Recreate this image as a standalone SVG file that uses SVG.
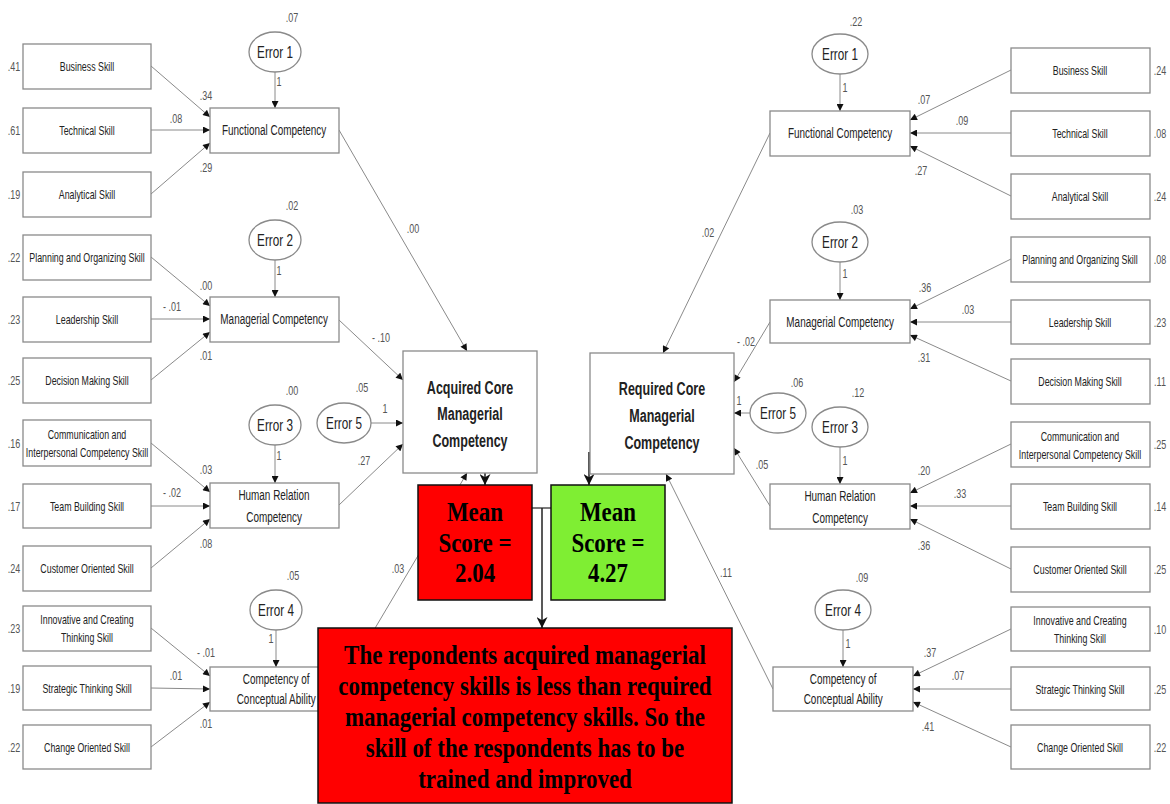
<svg xmlns="http://www.w3.org/2000/svg" width="1170" height="804" viewBox="0 0 1170 804">
<style>
.box{fill:#fff;stroke:#8a8a8a;stroke-width:1.3}
.ell{fill:#fff;stroke:#8a8a8a;stroke-width:1.3}
.t{font-family:"Liberation Sans",Arial,sans-serif;fill:#222;text-anchor:middle;dominant-baseline:central;transform-box:fill-box;transform-origin:center}
.sk{font-size:13px;transform:scaleX(.68)}
.cp{font-size:14px;transform:scaleX(.71)}
.er{font-size:17px;transform:scaleX(.69)}
.num{font-size:12px;fill:#555;transform:scaleX(.75)}
.big{font-size:19px;font-weight:bold;transform:scaleX(.66)}
.ln{stroke:#8a8a8a;stroke-width:1;fill:none;marker-end:url(#ah)}
.thk{stroke:#222;stroke-width:1.5;fill:none;marker-end:url(#ahb)}
.tm{font-family:"Liberation Serif","Times New Roman",serif;font-weight:bold;font-size:27px;fill:#000;text-anchor:middle;dominant-baseline:central;transform-box:fill-box;transform-origin:center;transform:scaleX(.85)}
.red{fill:#ff0000;stroke:#111;stroke-width:1.5}
.grn{fill:#7fee33;stroke:#111;stroke-width:1.5}
</style>
<defs>
<marker id="ah" viewBox="0 0 10 10" refX="10" refY="5" markerWidth="8" markerHeight="7" markerUnits="userSpaceOnUse" orient="auto"><path d="M0,0 L10,5 L0,10 z" fill="#111"/></marker>
<marker id="ahb" viewBox="0 0 10 10" refX="10" refY="5" markerWidth="11" markerHeight="11" markerUnits="userSpaceOnUse" orient="auto"><path d="M0,0 L10,5 L0,10 L3,5 z" fill="#111"/></marker>
</defs>
<rect width="1170" height="804" fill="#fff"/>

<g id="connectors">
<line class="ln" x1="151" y1="66" x2="210" y2="117"/>
<line class="ln" x1="151" y1="130" x2="210" y2="130"/>
<line class="ln" x1="151" y1="194" x2="210" y2="143"/>
<line class="ln" x1="151" y1="257" x2="210" y2="306"/>
<line class="ln" x1="151" y1="319" x2="210" y2="319"/>
<line class="ln" x1="151" y1="380" x2="210" y2="332"/>
<line class="ln" x1="151" y1="443" x2="210" y2="492"/>
<line class="ln" x1="151" y1="506" x2="210" y2="506"/>
<line class="ln" x1="151" y1="568" x2="210" y2="519"/>
<line class="ln" x1="151" y1="628" x2="210" y2="676"/>
<line class="ln" x1="151" y1="688" x2="210" y2="689"/>
<line class="ln" x1="151" y1="747" x2="210" y2="702"/>
<line class="ln" x1="275" y1="72" x2="275" y2="108"/>
<line class="ln" x1="275" y1="260" x2="275" y2="297"/>
<line class="ln" x1="275" y1="445" x2="275" y2="483"/>
<line class="ln" x1="276" y1="630" x2="276" y2="667"/>
<line class="ln" x1="339" y1="130" x2="467" y2="351"/>
<line class="ln" x1="339" y1="320" x2="403" y2="380"/>
<line class="ln" x1="371" y1="423" x2="403" y2="423"/>
<line class="ln" x1="339" y1="505" x2="403" y2="444"/>
<line class="ln" x1="339" y1="689" x2="467" y2="473"/>
<line class="ln" x1="1011" y1="70" x2="910" y2="120"/>
<line class="ln" x1="1011" y1="133" x2="910" y2="133"/>
<line class="ln" x1="1011" y1="196" x2="910" y2="146"/>
<line class="ln" x1="1011" y1="259" x2="910" y2="309"/>
<line class="ln" x1="1011" y1="322" x2="910" y2="322"/>
<line class="ln" x1="1011" y1="381" x2="910" y2="335"/>
<line class="ln" x1="1011" y1="444" x2="910" y2="493"/>
<line class="ln" x1="1011" y1="506" x2="910" y2="506"/>
<line class="ln" x1="1011" y1="569" x2="910" y2="519"/>
<line class="ln" x1="1011" y1="629" x2="913" y2="676"/>
<line class="ln" x1="1011" y1="689" x2="913" y2="689"/>
<line class="ln" x1="1011" y1="747" x2="913" y2="702"/>
<line class="ln" x1="840" y1="74" x2="840" y2="111"/>
<line class="ln" x1="840" y1="262" x2="840" y2="300"/>
<line class="ln" x1="840" y1="447" x2="840" y2="484"/>
<line class="ln" x1="843" y1="630" x2="843" y2="667"/>
<line class="ln" x1="770" y1="133" x2="663" y2="353"/>
<line class="ln" x1="770" y1="322" x2="734" y2="382"/>
<line class="ln" x1="750" y1="413" x2="734" y2="413"/>
<line class="ln" x1="770" y1="506" x2="734" y2="448"/>
<line class="ln" x1="773" y1="689" x2="666" y2="474"/>
<line class="thk" x1="485" y1="452" x2="485" y2="485"/>
<line class="thk" x1="589" y1="452" x2="589" y2="485"/>
<line x1="532" y1="508" x2="551" y2="508" stroke="#333" stroke-width="1.3"/>
<line class="thk" x1="542" y1="508" x2="542" y2="628" stroke-width="1.2"/>
</g>

<g id="path-labels">
<text class="t num" x="206" y="95">.34</text><text class="t num" x="176" y="118">.08</text><text class="t num" x="206" y="167">.29</text>
<text class="t num" x="206" y="285">.00</text><text class="t num" x="172" y="306">- .01</text><text class="t num" x="206" y="355">.01</text>
<text class="t num" x="206" y="469">.03</text><text class="t num" x="172" y="492">- .02</text><text class="t num" x="206" y="543">.08</text>
<text class="t num" x="206" y="652">- .01</text><text class="t num" x="176" y="675">.01</text><text class="t num" x="206" y="723">.01</text>
<text class="t num" x="279" y="81">1</text><text class="t num" x="279" y="270">1</text><text class="t num" x="279" y="455">1</text><text class="t num" x="271" y="638">1</text>
<text class="t num" x="413" y="228">.00</text><text class="t num" x="381" y="337">- .10</text><text class="t num" x="385" y="408">1</text><text class="t num" x="364" y="460">.27</text><text class="t num" x="398" y="568">.03</text>
<text class="t num" x="924" y="99">.07</text><text class="t num" x="962" y="120">.09</text><text class="t num" x="921" y="170">.27</text>
<text class="t num" x="925" y="287">.36</text><text class="t num" x="968" y="309">.03</text><text class="t num" x="924" y="357">.31</text>
<text class="t num" x="924" y="470">.20</text><text class="t num" x="960" y="493">.33</text><text class="t num" x="924" y="545">.36</text>
<text class="t num" x="930" y="652">.37</text><text class="t num" x="958" y="675">.07</text><text class="t num" x="928" y="726">.41</text>
<text class="t num" x="845" y="87">1</text><text class="t num" x="845" y="273">1</text><text class="t num" x="845" y="460">1</text><text class="t num" x="848" y="643">1</text>
<text class="t num" x="708" y="232">.02</text><text class="t num" x="746" y="341">- .02</text><text class="t num" x="739" y="400">1</text><text class="t num" x="762" y="464">.05</text><text class="t num" x="726" y="572">.11</text>
<text class="t num" x="292" y="17">.07</text><text class="t num" x="292" y="205">.02</text><text class="t num" x="292" y="390">.00</text><text class="t num" x="293" y="575">.05</text><text class="t num" x="362" y="387">.05</text>
<text class="t num" x="856" y="21">.22</text><text class="t num" x="857" y="209">.03</text><text class="t num" x="858" y="392">.12</text><text class="t num" x="862" y="577">.09</text><text class="t num" x="797" y="382">.06</text>
</g>

<g id="left-skill-values">
<text class="t num" x="14" y="66">.41</text><text class="t num" x="14" y="130">.61</text><text class="t num" x="14" y="194">.19</text><text class="t num" x="14" y="257">.22</text>
<text class="t num" x="14" y="319">.23</text><text class="t num" x="14" y="380">.25</text><text class="t num" x="14" y="443">.16</text><text class="t num" x="14" y="506">.17</text>
<text class="t num" x="14" y="568">.24</text><text class="t num" x="14" y="628">.23</text><text class="t num" x="14" y="688">.19</text><text class="t num" x="14" y="747">.22</text>
</g>
<g id="right-skill-values">
<text class="t num" x="1160" y="70">.24</text><text class="t num" x="1160" y="133">.08</text><text class="t num" x="1160" y="196">.24</text><text class="t num" x="1160" y="259">.08</text>
<text class="t num" x="1160" y="322">.23</text><text class="t num" x="1160" y="381">.11</text><text class="t num" x="1160" y="444">.25</text><text class="t num" x="1160" y="506">.14</text>
<text class="t num" x="1160" y="569">.25</text><text class="t num" x="1160" y="629">.10</text><text class="t num" x="1160" y="689">.25</text><text class="t num" x="1160" y="747">.22</text>
</g>

<g id="L-business"><rect class="box" x="23" y="44" width="128" height="45"/><text class="t sk" x="87" y="66">Business Skill</text></g>
<g id="L-technical"><rect class="box" x="23" y="108" width="128" height="45"/><text class="t sk" x="87" y="130">Technical Skill</text></g>
<g id="L-analytical"><rect class="box" x="23" y="172" width="128" height="45"/><text class="t sk" x="87" y="194">Analytical Skill</text></g>
<g id="L-planning"><rect class="box" x="23" y="235" width="128" height="45"/><text class="t sk" x="87" y="257">Planning and Organizing Skill</text></g>
<g id="L-leadership"><rect class="box" x="23" y="297" width="128" height="45"/><text class="t sk" x="87" y="319">Leadership Skill</text></g>
<g id="L-decision"><rect class="box" x="23" y="358" width="128" height="45"/><text class="t sk" x="87" y="380">Decision Making Skill</text></g>
<g id="L-communication"><rect class="box" x="23" y="420" width="128" height="46"/><text class="t sk" x="87" y="434">Communication and</text><text class="t sk" x="87" y="452">Interpersonal Competency Skill</text></g>
<g id="L-team"><rect class="box" x="23" y="484" width="128" height="44"/><text class="t sk" x="87" y="506">Team Building Skill</text></g>
<g id="L-customer"><rect class="box" x="23" y="546" width="128" height="45"/><text class="t sk" x="87" y="568">Customer Oriented Skill</text></g>
<g id="L-innovative"><rect class="box" x="23" y="606" width="128" height="45"/><text class="t sk" x="87" y="619">Innovative and Creating</text><text class="t sk" x="87" y="637">Thinking Skill</text></g>
<g id="L-strategic"><rect class="box" x="23" y="666" width="128" height="44"/><text class="t sk" x="87" y="688">Strategic Thinking Skill</text></g>
<g id="L-change"><rect class="box" x="23" y="725" width="128" height="44"/><text class="t sk" x="87" y="747">Change Oriented Skill</text></g>

<g id="L-functional"><rect class="box" x="210" y="108" width="129" height="45"/><text class="t cp" x="274" y="130">Functional Competency</text></g>
<g id="L-managerial"><rect class="box" x="210" y="297" width="129" height="45"/><text class="t cp" x="274" y="319">Managerial Competency</text></g>
<g id="L-human"><rect class="box" x="210" y="483" width="129" height="45"/><text class="t cp" x="274" y="495">Human Relation</text><text class="t cp" x="274" y="517">Competency</text></g>
<g id="L-conceptual"><rect class="box" x="210" y="667" width="129" height="44"/><text class="t cp" x="276" y="679">Competency of</text><text class="t cp" x="276" y="699">Conceptual Ability</text></g>

<g id="L-error1"><ellipse class="ell" cx="275" cy="52" rx="26" ry="20"/><text class="t er" x="275" y="52">Error 1</text></g>
<g id="L-error2"><ellipse class="ell" cx="275" cy="240" rx="26" ry="20"/><text class="t er" x="275" y="240">Error 2</text></g>
<g id="L-error3"><ellipse class="ell" cx="275" cy="425" rx="26" ry="20"/><text class="t er" x="275" y="425">Error 3</text></g>
<g id="L-error4"><ellipse class="ell" cx="276" cy="610" rx="26" ry="20"/><text class="t er" x="276" y="610">Error 4</text></g>
<g id="L-error5"><ellipse class="ell" cx="344" cy="423" rx="27" ry="20"/><text class="t er" x="344" y="423">Error 5</text></g>

<g id="R-business"><rect class="box" x="1011" y="48" width="139" height="45"/><text class="t sk" x="1080" y="70">Business Skill</text></g>
<g id="R-technical"><rect class="box" x="1011" y="111" width="139" height="45"/><text class="t sk" x="1080" y="133">Technical Skill</text></g>
<g id="R-analytical"><rect class="box" x="1011" y="174" width="139" height="45"/><text class="t sk" x="1080" y="196">Analytical Skill</text></g>
<g id="R-planning"><rect class="box" x="1011" y="237" width="139" height="45"/><text class="t sk" x="1080" y="259">Planning and Organizing Skill</text></g>
<g id="R-leadership"><rect class="box" x="1011" y="300" width="139" height="44"/><text class="t sk" x="1080" y="322">Leadership Skill</text></g>
<g id="R-decision"><rect class="box" x="1011" y="359" width="139" height="45"/><text class="t sk" x="1080" y="381">Decision Making Skill</text></g>
<g id="R-communication"><rect class="box" x="1011" y="422" width="139" height="45"/><text class="t sk" x="1080" y="436">Communication and</text><text class="t sk" x="1080" y="454">Interpersonal Competency Skill</text></g>
<g id="R-team"><rect class="box" x="1011" y="484" width="139" height="45"/><text class="t sk" x="1080" y="506">Team Building Skill</text></g>
<g id="R-customer"><rect class="box" x="1011" y="547" width="139" height="45"/><text class="t sk" x="1080" y="569">Customer Oriented Skill</text></g>
<g id="R-innovative"><rect class="box" x="1011" y="607" width="139" height="44"/><text class="t sk" x="1080" y="620">Innovative and Creating</text><text class="t sk" x="1080" y="638">Thinking Skill</text></g>
<g id="R-strategic"><rect class="box" x="1011" y="667" width="139" height="43"/><text class="t sk" x="1080" y="689">Strategic Thinking Skill</text></g>
<g id="R-change"><rect class="box" x="1011" y="725" width="139" height="44"/><text class="t sk" x="1080" y="747">Change Oriented Skill</text></g>

<g id="R-functional"><rect class="box" x="770" y="111" width="140" height="45"/><text class="t cp" x="840" y="133">Functional Competency</text></g>
<g id="R-managerial"><rect class="box" x="770" y="300" width="140" height="43"/><text class="t cp" x="840" y="322">Managerial Competency</text></g>
<g id="R-human"><rect class="box" x="770" y="484" width="140" height="45"/><text class="t cp" x="840" y="496">Human Relation</text><text class="t cp" x="840" y="518">Competency</text></g>
<g id="R-conceptual"><rect class="box" x="773" y="667" width="140" height="44"/><text class="t cp" x="843" y="679">Competency of</text><text class="t cp" x="843" y="699">Conceptual Ability</text></g>

<g id="R-error1"><ellipse class="ell" cx="840" cy="54" rx="28" ry="20"/><text class="t er" x="840" y="54">Error 1</text></g>
<g id="R-error2"><ellipse class="ell" cx="840" cy="242" rx="28" ry="20"/><text class="t er" x="840" y="242">Error 2</text></g>
<g id="R-error3"><ellipse class="ell" cx="840" cy="427" rx="28" ry="20"/><text class="t er" x="840" y="427">Error 3</text></g>
<g id="R-error4"><ellipse class="ell" cx="843" cy="610" rx="28" ry="20"/><text class="t er" x="843" y="610">Error 4</text></g>
<g id="R-error5"><ellipse class="ell" cx="778" cy="413" rx="28" ry="20"/><text class="t er" x="778" y="413">Error 5</text></g>

<g id="acquired"><rect class="box" x="403" y="351" width="134" height="122"/><text class="t big" x="470" y="387">Acquired Core</text><text class="t big" x="470" y="413">Managerial</text><text class="t big" x="470" y="440">Competency</text></g>
<g id="required"><rect class="box" x="590" y="353" width="144" height="121"/><text class="t big" x="662" y="388">Required Core</text><text class="t big" x="662" y="415">Managerial</text><text class="t big" x="662" y="442">Competency</text></g>
<g id="mean-acquired"><rect class="red" x="418" y="485" width="114" height="115"/><text class="tm" x="475" y="512">Mean</text><text class="tm" x="475" y="543">Score =</text><text class="tm" x="475" y="573">2.04</text></g>
<g id="mean-required"><rect class="grn" x="551" y="485" width="114" height="115"/><text class="tm" x="608" y="512">Mean</text><text class="tm" x="608" y="543">Score =</text><text class="tm" x="608" y="573">4.27</text></g>
<g id="conclusion"><rect class="red" x="318" y="628" width="414" height="175"/>
<text class="tm" x="525" y="655">The repondents acquired managerial</text>
<text class="tm" x="525" y="686">competency skills is less than required</text>
<text class="tm" x="525" y="717">managerial competency skills. So the</text>
<text class="tm" x="525" y="748">skill of the respondents has to be</text>
<text class="tm" x="525" y="779">trained and improved</text></g>
</svg>
